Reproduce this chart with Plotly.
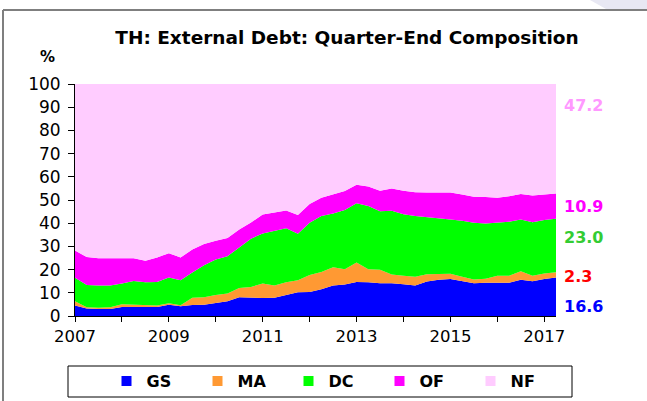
import plotly.graph_objects as go

# ---- data (percent of total external debt, quarter-end) ----
quarters = [f"{2007 + i // 4}Q{i % 4 + 1}" for i in range(42)]  # 2007Q1 .. 2017Q2

gs = [4.5, 3.2, 3.0, 3.0, 3.9, 3.9, 3.9, 3.9, 4.9, 4.2,
      4.7, 4.9, 5.6, 6.4, 8.1, 7.8, 7.8, 7.9, 9.1, 10.2,
      10.3, 11.5, 13.1, 13.6, 14.7, 14.6, 14.1, 14.1, 13.7, 13.1,
      14.9, 15.6, 15.9, 15.0, 14.1, 14.3, 14.3, 14.3, 15.6, 15.0,
      15.9, 16.6]
ma = [1.9, 0.6, 0.6, 0.8, 1.2, 1.0, 0.7, 0.6, 0.6, 0.4,
      3.2, 3.2, 3.5, 3.3, 4.0, 4.7, 6.2, 5.2, 5.5, 5.2,
      7.4, 7.5, 7.9, 6.6, 8.4, 5.6, 5.8, 3.8, 3.7, 3.8,
      3.1, 2.4, 2.3, 1.9, 1.6, 1.8, 3.1, 3.1, 3.7, 2.3,
      2.4, 2.3]
dc = [10.1, 9.6, 9.5, 9.3, 8.9, 10.2, 10.0, 10.2, 11.1, 10.8,
      10.8, 13.8, 15.3, 16.1, 17.4, 20.8, 21.6, 23.5, 23.2, 20.0,
      22.5, 24.1, 23.2, 25.5, 25.5, 27.2, 25.3, 27.5, 26.5, 26.2,
      24.5, 24.1, 23.4, 24.2, 24.5, 23.8, 22.7, 23.2, 22.3, 23.1,
      23.1, 23.0]
of = [11.7, 12.0, 11.8, 11.7, 10.7, 9.8, 9.2, 10.5, 10.5, 9.8,
      10.0, 9.1, 8.0, 7.8, 7.8, 7.0, 8.2, 7.9, 7.7, 8.1,
      8.1, 7.9, 8.2, 8.2, 8.0, 8.4, 8.8, 9.6, 10.1, 10.2,
      10.7, 11.2, 11.6, 11.3, 11.2, 11.4, 10.9, 11.0, 11.0, 11.5,
      11.0, 10.9]
nf = [round(100 - a - b - c - d, 1) for a, b, c, d in zip(gs, ma, dc, of)]

series_names = ["GS", "MA", "DC", "OF", "NF"]
series_vals = [gs, ma, dc, of, nf]
series_colors = ["#0000ff", "#ff9933", "#00ff00", "#ff00ff", "#ffccff"]
label_colors = ["#0000ff", "#ff0000", "#33cc33", "#ff00ff", "#ff99ff"]

year_ticks = list(range(2007, 2018))
year_labels = [str(y) if (y - 2007) % 2 == 0 else "" for y in year_ticks]
y_ticks = list(range(0, 101, 10))

# x position of each quarter (decimal years)
xq = [int(q[:4]) + (int(q[-1]) - 1) / 4 for q in quarters]

# ---- layout geometry (pixels) ----
W, H = 647, 401
L, R, T, B = 75, 91, 84, 85
PW, PH = W - L - R, H - T - B
FONT = "DejaVu Sans"


def px(xp):
    return (xp - L) / PW


def py(yp):
    return (T + PH - yp) / PH


fig = go.Figure()
for name, vals, col in zip(series_names, series_vals, series_colors):
    fig.add_trace(go.Scatter(x=xq, y=vals, name=name, stackgroup="one",
                             mode="lines", line=dict(width=0, color=col),
                             fillcolor=col, showlegend=False,
                             hoverinfo="x+y+name"))
for name, col in zip(series_names, series_colors):
    fig.add_trace(go.Scatter(x=[None], y=[None], name=name, mode="markers",
                             marker=dict(symbol="square", size=10, color=col),
                             showlegend=True))

# right-hand labels (last values)
label_y = [4.2, 16.9, 34.0, 47.4, 90.6]
annotations = []
for vals, col, ly in zip(series_vals, label_colors, label_y):
    annotations.append(dict(x=xq[-1], y=ly, xref="x", yref="y",
                            text=f"{vals[-1]:.1f}", showarrow=False,
                            xanchor="left", yanchor="middle", xshift=6,
                            font=dict(family=FONT, size=16, color=col,
                                      weight="bold")))
annotations.append(dict(x=px(47), y=py(57), xref="paper", yref="paper",
                        text="%", showarrow=False, xanchor="center",
                        yanchor="middle",
                        font=dict(family=FONT, size=15, color="#000",
                                  weight="bold")))

shapes = [
    # outer frame
    dict(type="line", xref="paper", yref="paper", x0=px(3), x1=px(W + 5),
         y0=py(10), y1=py(10), line=dict(color="#7f7f7f", width=2)),
    dict(type="line", xref="paper", yref="paper", x0=px(3), x1=px(3),
         y0=py(10), y1=py(H + 5), line=dict(color="#7f7f7f", width=2)),
    # faint corner decoration
    dict(type="path", xref="paper", yref="paper",
         path=f"M {px(590)} {py(0)} L {px(W)} {py(0)} L {px(W)} {py(9)} L {px(606)} {py(9)} Z",
         fillcolor="#e8e8f3", line=dict(width=0)),
    # legend box
    dict(type="rect", xref="paper", yref="paper", x0=px(68), x1=px(572),
         y0=py(366), y1=py(397), line=dict(color="#000", width=1),
         fillcolor="rgba(0,0,0,0)"),
]

fig.update_layout(
    width=W, height=H,
    margin=dict(l=L, r=R, t=T, b=B, pad=0, autoexpand=False),
    paper_bgcolor="white", plot_bgcolor="white",
    title=dict(text="TH: External Debt: Quarter-End Composition",
               x=347 / W, xanchor="center", y=1 - 38 / H, yanchor="middle",
               xref="container", yref="container",
               font=dict(family=FONT, size=18.5, color="#000", weight="bold")),
    font=dict(family=FONT, size=16, color="#000"),
    xaxis=dict(range=[xq[0], xq[-1]], tickvals=year_ticks, ticktext=year_labels,
               showgrid=False, zeroline=False, showline=True, tickangle=0,
               linecolor="#000", linewidth=1, ticks="outside", ticklen=5,
               tickcolor="#000", tickfont=dict(family=FONT, size=16.5)),
    yaxis=dict(range=[0, 100], tickvals=y_ticks, showgrid=False,
               zeroline=False, showline=True, linecolor="#000", linewidth=1,
               ticks="outside", ticklen=6, tickcolor="#000",
               ticklabelstandoff=4,
               tickfont=dict(family=FONT, size=17)),
    legend=dict(orientation="h", x=334 / W, xref="container", xanchor="center",
                y=1 - 381 / H, yref="container", yanchor="middle",
                traceorder="normal",
                font=dict(family=FONT, size=16, color="#000", weight="bold"),
                entrywidth=46, entrywidthmode="pixels",
                bgcolor="rgba(0,0,0,0)", itemwidth=30),
    annotations=annotations,
    shapes=shapes,
    showlegend=True,
)

fig.write_html("out.html",
               config={"displayModeBar": False},
               post_script="document.body.style.margin='0';"
                           "document.body.style.overflow='hidden';")
